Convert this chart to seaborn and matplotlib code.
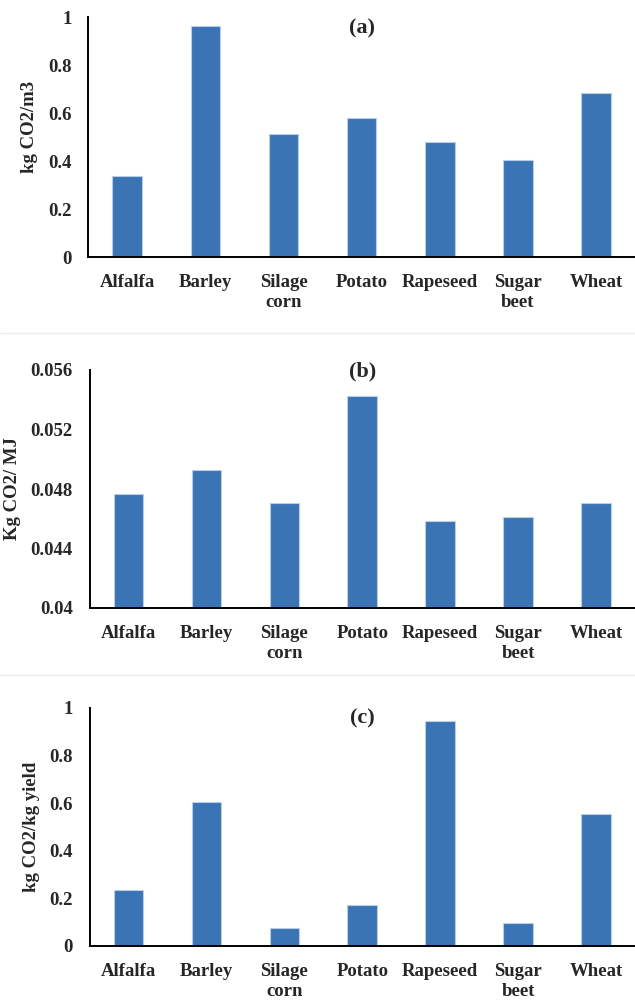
import matplotlib
matplotlib.use("Agg")
import matplotlib.pyplot as plt
from matplotlib.lines import Line2D
import seaborn as sns
import pandas as pd

crops = ["Alfalfa", "Barley", "Silage\ncorn", "Potato", "Rapeseed", "Sugar\nbeet", "Wheat"]
per_m3 = [0.336, 0.964, 0.514, 0.581, 0.481, 0.406, 0.682]
per_mj = [0.04765, 0.04926, 0.04707, 0.05428, 0.04584, 0.04609, 0.04705]
per_kg_yield = [0.237, 0.604, 0.076, 0.173, 0.945, 0.098, 0.555]

ticks_a = [0, 0.2, 0.4, 0.6, 0.8, 1]
labels_a = ["0", "0.2", "0.4", "0.6", "0.8", "1"]
ticks_b = [0.04, 0.044, 0.048, 0.052, 0.056]
labels_b = ["0.04", "0.044", "0.048", "0.052", "0.056"]

sns.set_style("white")
plt.rcParams['font.family'] = ['Liberation Serif', 'DejaVu Serif']
plt.rcParams['font.weight'] = 'bold'

bar_color = "#3a74b5"

fig = plt.figure(figsize=(6.35, 10), dpi=100)

panels = [
    # values, ylabel, title, ylim, ticks, labels, axes rect, title y, ylabel y
    (per_m3, "kg CO2/m3", "(a)", (0, 1), ticks_a, labels_a, [0.139, 0.743, 0.861, 0.240], 0.954, 0.54),
    (per_mj, "Kg CO2/ MJ", "(b)", (0.04, 0.056), ticks_b, labels_b, [0.141, 0.392, 0.859, 0.238], 0.995, 0.5),
    (per_kg_yield, "kg CO2/kg yield", "(c)", (0, 1), ticks_a, labels_a, [0.141, 0.054, 0.859, 0.238], 0.954, 0.5),
]

for vals, ylab, ttl, ylim, ticks, tlabels, rect, ty, ly in panels:
    ax = fig.add_axes(rect)
    df = pd.DataFrame({"crop": crops, "value": vals})
    sns.barplot(data=df, x="crop", y="value", color=bar_color, width=0.38,
                edgecolor="#b9cfe9", linewidth=0.8, saturation=1, ax=ax)
    ax.set_ylim(*ylim)
    ax.set_xlim(-0.5, len(crops) - 0.5)
    ax.set_yticks(ticks)
    ax.set_yticklabels(tlabels, fontsize=13.5, fontweight="bold")
    ax.set_xticks(range(len(crops)))
    ax.set_xticklabels(crops, fontsize=13.5, fontweight="bold", linespacing=1.25)
    ax.tick_params(axis="both", length=0)
    ax.tick_params(axis="x", pad=12)
    ax.tick_params(axis="y", pad=12)
    ax.set_xlabel("")
    ax.set_ylabel(ylab, fontsize=13.5, fontweight="bold", labelpad=7)
    ax.yaxis.label.set_y(ly)
    ax.text(0.5, ty, ttl, transform=ax.transAxes, ha="center", va="center",
            fontsize=16, fontweight="bold")
    sns.despine(ax=ax)
    for side in ("left", "bottom"):
        ax.spines[side].set_color("black")
        ax.spines[side].set_linewidth(1.4)

# faint separators between the original chart boxes
for yy in (0.667, 0.325):
    fig.add_artist(Line2D([0, 1], [yy, yy], color="#ececec", linewidth=1))

fig.savefig("out.png", dpi=100)
